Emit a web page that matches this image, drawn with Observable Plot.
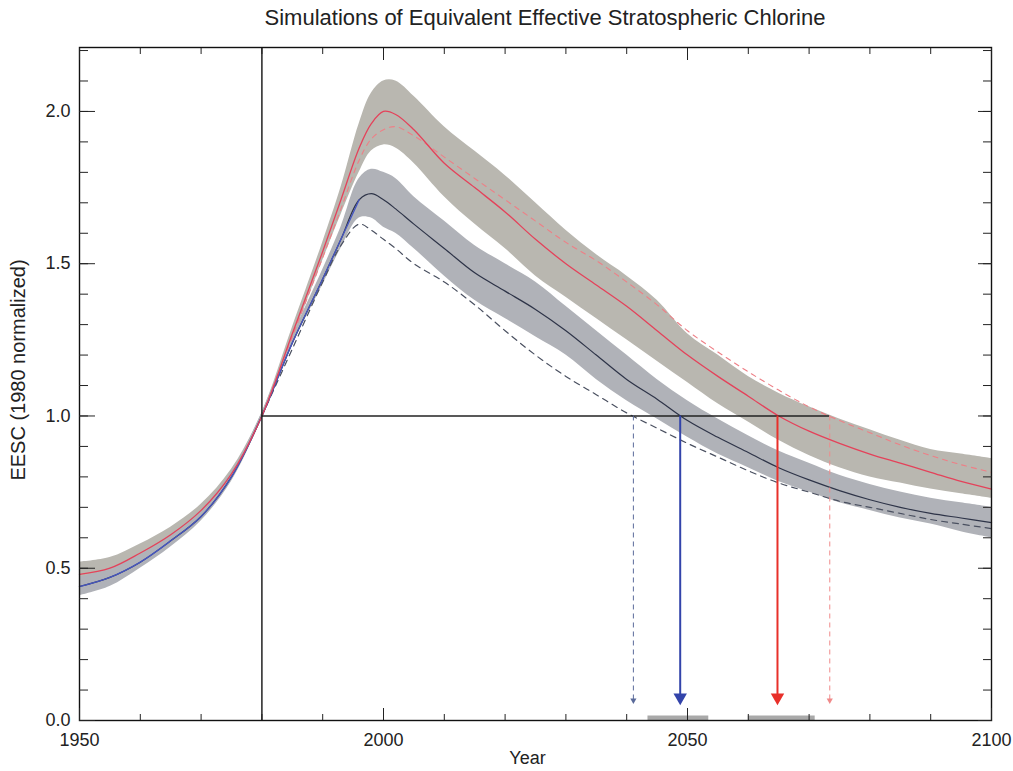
<!DOCTYPE html>
<html>
<head>
<meta charset="utf-8">
<script src="https://cdn.jsdelivr.net/npm/d3@7"></script>
<script src="https://cdn.jsdelivr.net/npm/@observablehq/plot@0.6"></script>
<style>
  html, body { margin: 0; padding: 0; background: #fff; }
  #wrap { position: relative; width: 1013px; height: 771px; overflow: hidden; }
  #title { position: absolute; top: 5px; left: 545px; transform: translateX(-50%); white-space: nowrap;
           font-family: "Liberation Sans", Arial, sans-serif; font-size: 22px; color: #222; }
  #chart { position: absolute; top: 0; left: 0; }
</style>
</head>
<body>
<div id="wrap">
  <div id="chart"></div>
  <div id="title">Simulations of Equivalent Effective Stratospheric Chlorine</div>
</div>
<script>
// ---------- data ----------
const years = [1950,1955,1960,1965,1970,1975,1980,1985,1990,1993,1996,1998,2000,2002,2005,2010,2015,2020,2025,2030,2035,2040,2045,2050,2055,2060,2065,2070,2075,2080,2085,2090,2095,2100];

// scenario A (upper, red)
const redMid  = [0.48,0.50,0.55,0.61,0.69,0.81,1.00,1.27,1.54,1.71,1.88,1.96,2.00,1.99,1.94,1.83,1.75,1.67,1.58,1.50,1.43,1.36,1.28,1.20,1.13,1.065,1.00,0.95,0.91,0.875,0.845,0.815,0.785,0.76];
const redLo   = [0.455,0.48,0.525,0.59,0.67,0.795,0.99,1.25,1.51,1.66,1.80,1.87,1.89,1.88,1.83,1.72,1.63,1.55,1.46,1.39,1.32,1.25,1.18,1.11,1.04,0.98,0.92,0.87,0.83,0.80,0.78,0.76,0.745,0.73];
const redHi   = [0.52,0.535,0.58,0.635,0.71,0.825,1.01,1.29,1.57,1.75,1.96,2.06,2.10,2.10,2.05,1.95,1.87,1.79,1.70,1.61,1.53,1.46,1.38,1.27,1.20,1.13,1.075,1.03,0.99,0.955,0.92,0.89,0.875,0.86];
const redDash = [null,null,null,null,null,null,1.00,1.26,1.52,1.68,1.84,1.91,1.94,1.95,1.92,1.85,1.78,1.71,1.64,1.57,1.51,1.44,1.365,1.28,1.21,1.145,1.085,1.03,0.985,0.945,0.905,0.87,0.84,0.815];

// scenario B (lower, dark/blue)
const darkMid  = [0.44,0.47,0.52,0.59,0.67,0.80,1.00,1.24,1.45,1.58,1.71,1.73,1.71,1.68,1.63,1.55,1.47,1.41,1.35,1.28,1.20,1.12,1.055,0.985,0.93,0.88,0.83,0.79,0.755,0.725,0.70,0.68,0.665,0.65];
const darkLo   = [0.41,0.44,0.50,0.57,0.655,0.785,0.99,1.23,1.43,1.55,1.65,1.65,1.62,1.60,1.55,1.46,1.38,1.32,1.26,1.20,1.12,1.05,0.99,0.93,0.875,0.83,0.785,0.75,0.715,0.69,0.665,0.645,0.62,0.60];
const darkHi   = [0.47,0.50,0.545,0.61,0.69,0.815,1.01,1.26,1.48,1.62,1.78,1.81,1.80,1.78,1.72,1.64,1.56,1.50,1.44,1.36,1.28,1.20,1.12,1.05,0.99,0.935,0.885,0.845,0.805,0.775,0.75,0.73,0.715,0.70];
const grayDash = [null,null,null,null,null,null,1.00,1.22,1.44,1.56,1.63,1.61,1.58,1.55,1.50,1.44,1.365,1.28,1.20,1.13,1.07,1.01,0.96,0.91,0.865,0.82,0.78,0.75,0.72,0.70,0.68,0.66,0.645,0.63];

// return-to-1980 years (arrows) and their uncertainty ranges
const arrowYears  = [2041.1, 2048.8, 2064.8, 2073.4];
const arrowKinds  = ["dashBlue", "solidBlue", "solidRed", "dashRed"];
const rangeStarts = [2043.5, 2060.0];
const rangeEnds   = [2053.5, 2071.0];

// ticks
const xTickLabels = [1950, 2000, 2050, 2100];
const xMinorTicks = d3.range(1950, 2101, 10);
const yTickLabels = [0, 0.5, 1.0, 1.5, 2.0];
const yMinorTicks = d3.range(0, 23).map(i => i / 10);

// ---------- build tables ----------
const rows = years.map((year, i) => ({
  year, redMid: redMid[i], redLo: redLo[i], redHi: redHi[i], redDash: redDash[i],
  darkMid: darkMid[i], darkLo: darkLo[i], darkHi: darkHi[i], grayDash: grayDash[i]
}));
const rising = rows.filter(d => d.year <= 1996);
const arrows = arrowYears.map((year, i) => ({year, kind: arrowKinds[i]}));
const ranges = rangeStarts.map((s, i) => ({start: s, end: rangeEnds[i]}));

const arrowColor = {dashBlue: "#5a6a9a", solidBlue: "#3344aa", solidRed: "#e8302a", dashRed: "#f08a8a"};
const solid = arrows.filter(d => d.kind.startsWith("solid"));
const dashed = arrows.filter(d => d.kind.startsWith("dash"));

const curve = "catmull-rom";
const chart = Plot.plot({
  width: 1013, height: 771,
  marginLeft: 79, marginRight: 22, marginTop: 47, marginBottom: 51,
  x: {domain: [1950, 2100]},
  y: {domain: [0, 2.21]},
  style: {fontFamily: "'Liberation Sans', Arial, sans-serif", fontSize: "18px", color: "#222", background: "white", overflow: "visible"},
  marks: [
    Plot.areaY(rows, {x: "year", y1: "redLo", y2: "redHi", fill: "#b9b7b0", curve}),
    Plot.areaY(rows, {x: "year", y1: "darkLo", y2: "darkHi", fill: "#b0b2b8", curve}),
    Plot.line(rows, {x: "year", y: "redDash", stroke: "#ee7f86", strokeWidth: 1.1, strokeDasharray: "5,5", curve, defined: d => d.redDash != null}),
    Plot.line(rows, {x: "year", y: "grayDash", stroke: "#4a5060", strokeWidth: 1.2, strokeDasharray: "6,5", curve, defined: d => d.grayDash != null}),
    Plot.line(rows, {x: "year", y: "darkMid", stroke: "#2e3448", strokeWidth: 1.2, curve}),
    Plot.line(rising, {x: "year", y: "darkMid", stroke: "#4656c0", strokeWidth: 1.3, curve}),
    Plot.line(rows, {x: "year", y: "redMid", stroke: "#e4425a", strokeWidth: 1.3, curve}),
    // reference lines
    Plot.ruleY([1], {x1: 1980, x2: arrowYears[3], stroke: "#222", strokeWidth: 1.3}),
    Plot.ruleX([1980], {stroke: "#222", strokeWidth: 1.5}),
    // arrows
    Plot.ruleX(dashed, {x: "year", y1: 1, y2: 0.065, stroke: d => arrowColor[d.kind], strokeWidth: 1, strokeDasharray: "5,4"}),
    Plot.ruleX(solid, {x: "year", y1: 1, y2: 0.08, stroke: d => arrowColor[d.kind], strokeWidth: 2}),
    Plot.dot(solid, {x: "year", y: 0.0757, symbol: "triangle", rotate: 180, r: 5, fill: d => arrowColor[d.kind], stroke: null}),
    Plot.dot(dashed, {x: "year", y: 0.066, symbol: "triangle", rotate: 180, r: 2.3, fill: d => arrowColor[d.kind], stroke: null}),
    // uncertainty bars along the axis
    Plot.ruleY(ranges, {y: 0.008, x1: "start", x2: "end", stroke: "#a9a9a9", strokeWidth: 5}),
    // frame and inward ticks
    Plot.frame({stroke: "#111", strokeWidth: 1.4}),
    Plot.axisX(xMinorTicks, {anchor: "bottom", tickSize: -6, tickFormat: () => "", label: null}),
    Plot.axisX(xTickLabels, {anchor: "bottom", tickSize: -12, tickPadding: 25, tickFormat: d => String(d), label: null}),
    Plot.axisX(xMinorTicks, {anchor: "top", tickSize: -6, tickFormat: () => "", label: null}),
    Plot.axisX(xTickLabels, {anchor: "top", tickSize: -12, tickFormat: () => "", label: null}),
    Plot.axisY(yMinorTicks, {anchor: "left", tickSize: -9, tickFormat: () => "", label: null}),
    Plot.axisY(yTickLabels, {anchor: "left", tickSize: -16, tickPadding: 25, tickFormat: d3.format(".1f"), label: null}),
    Plot.axisY(yMinorTicks, {anchor: "right", tickSize: -9, tickFormat: () => "", label: null}),
    Plot.axisY(yTickLabels, {anchor: "right", tickSize: -14, tickFormat: () => "", label: null}),
    // axis titles
    Plot.text(["Year"], {frameAnchor: "bottom", dx: -8, dy: 43, text: d => d, fontSize: 18}),
    Plot.text(["EESC (1980 normalized)"], {frameAnchor: "left", textAnchor: "middle", rotate: -90, dx: -61, dy: -14, text: d => d, fontSize: 20})
  ]
});
document.getElementById("chart").appendChild(chart);
</script>
</body>
</html>
